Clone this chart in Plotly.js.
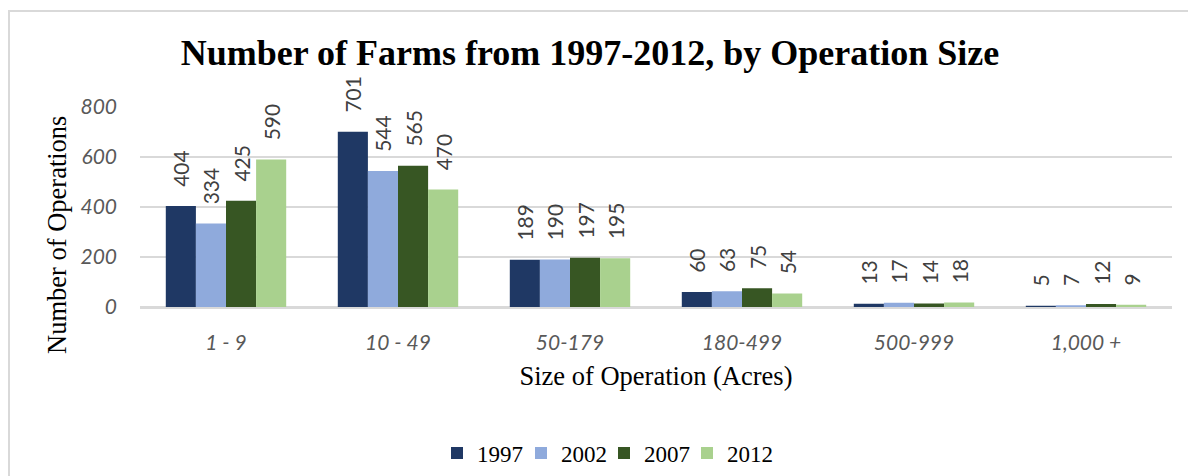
<!DOCTYPE html>
<html>
<head>
<meta charset="utf-8">
<script src="https://cdn.plot.ly/plotly-3.0.1.min.js"></script>
<style>html,body{margin:0;padding:0;background:#fff;}#chart{width:1188px;height:476px;}</style>
</head>
<body>
<div id="chart"></div>
<script>
const categories = ['1 - 9', '10 - 49', '50-179', '180-499', '500-999', '1,000 +'];
const years = ['1997', '2002', '2007', '2012'];
const v1997 = [404, 701, 189, 60, 13, 5];
const v2002 = [334, 544, 190, 63, 17, 7];
const v2007 = [425, 565, 197, 75, 14, 12];
const v2012 = [590, 470, 195, 54, 18, 9];
const colors = ['#1F3864', '#8FAADC', '#375623', '#A9D18E'];
const yTicks = [0, 200, 400, 600, 800];

const legendNames = ['legend', 'legend2', 'legend3', 'legend4'];
const legendSymbolLeft = [452, 536, 619, 702];

const series = [v1997, v2002, v2007, v2012];
const traces = series.map((vals, i) => ({
  type: 'bar',
  name: years[i],
  legend: legendNames[i],
  x: categories,
  y: vals,
  marker: {color: colors[i], line: {width: 0}},
  texttemplate: '\u00a0\u00a0\u00a0%{y}',
  textposition: 'outside',
  textangle: -90,
  constraintext: 'none',
  cliponaxis: false,
  textfont: {family: 'Lato, sans-serif', size: 21, color: '#404040'},
  hoverinfo: 'none'
}));

const L = 140, R = 16, T = 107, B = 169;
const pw = 1188 - L - R, ph = 476 - T - B;
const px = v => (v - L) / pw;
const py = v => (476 - B - v) / ph;

const layout = {
  width: 1188, height: 476,
  margin: {l: L, r: R, t: T, b: B, pad: 0, autoexpand: false},
  paper_bgcolor: '#fff', plot_bgcolor: '#fff',
  barmode: 'group', bargap: 0.3, bargroupgap: 0,
  showlegend: true,
  title: {
    text: '<b>Number of Farms from 1997-2012, by Operation Size</b>',
    font: {family: '"Liberation Serif", "Times New Roman", serif', size: 36, color: '#000'},
    x: 590 / 1188, xanchor: 'center', xref: 'container',
    y: 1 - 52 / 476, yanchor: 'middle', yref: 'container'
  },
  xaxis: {
    type: 'category',
    showgrid: false, showline: true, linecolor: '#d9d9d9', linewidth: 2,
    ticks: '', ticklabelstandoff: 16,
    tickfont: {family: 'Lato, sans-serif', size: 21, color: '#595959', style: 'italic'},
    title: {text: 'Size of Operation (Acres)', standoff: 13,
      font: {family: '"Liberation Serif", "Times New Roman", serif', size: 26.5, color: '#000'}},
    automargin: false, fixedrange: true
  },
  yaxis: {
    range: [0, 800], tickvals: yTicks, ticktext: yTicks.map(String),
    showgrid: true, gridcolor: '#d9d9d9', gridwidth: 1.5,
    zeroline: true, zerolinecolor: '#d9d9d9', zerolinewidth: 2,
    showline: false, ticks: '', ticklabelstandoff: 22,
    tickfont: {family: 'Lato, sans-serif', size: 21, color: '#595959', style: 'italic'},
    automargin: false, fixedrange: true
  },
  annotations: [{
    text: 'Number of Operations', textangle: -90, showarrow: false,
    xref: 'paper', yref: 'paper', x: px(57), y: py(235),
    xanchor: 'center', yanchor: 'middle',
    font: {family: '"Liberation Serif", "Times New Roman", serif', size: 26.5, color: '#000'}
  }],
  shapes: [{
    type: 'rect', xref: 'paper', yref: 'paper', layer: 'below',
    x0: px(9), x1: px(1210), y0: py(500), y1: py(11),
    line: {color: '#d9d9d9', width: 2}, fillcolor: 'rgba(0,0,0,0)'
  }]
};

legendNames.forEach((ln, i) => {
  layout[ln] = {
    orientation: 'h', xref: 'container', yref: 'container',
    x: (legendSymbolLeft[i] - 15) / 1188, xanchor: 'left',
    y: 1 - 453 / 476, yanchor: 'middle',
    font: {family: '"Liberation Serif", "Times New Roman", serif', size: 23, color: '#000'},
    bgcolor: 'rgba(0,0,0,0)', borderwidth: 0
  };
});

Plotly.newPlot('chart', traces, layout, {displayModeBar: false, staticPlot: true});
</script>
</body>
</html>
